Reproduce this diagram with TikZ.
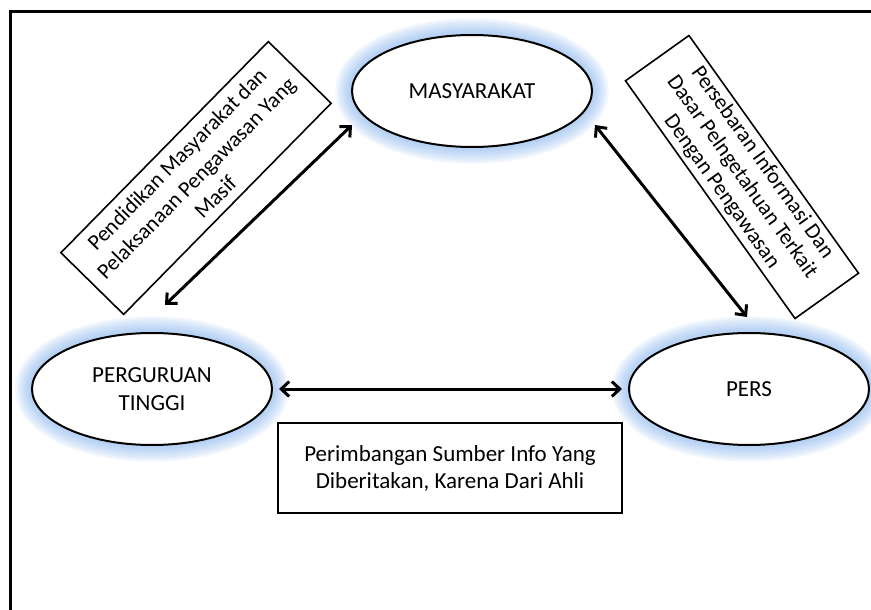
\documentclass[tikz,border=0pt]{standalone}
\usepackage{fontspec}
\setmainfont{Carlito}
\usetikzlibrary{shapes.geometric,arrows.meta}
\definecolor{glowc}{RGB}{120,170,235}
\begin{document}
\begin{tikzpicture}[x=1pt,y=-1pt,
  gl/.style={preaction={draw=glowc, line width=#1, opacity=0.07}},
  glowell/.style={ellipse, draw=black, line width=2pt, fill=white,
    minimum width=240pt, minimum height=112pt, inner sep=0pt, align=center,
    font=\fontsize{23}{28}\selectfont,
    gl=34pt, gl=31pt, gl=28pt, gl=25pt, gl=22pt, gl=19pt, gl=16pt, gl=13pt, gl=10pt, gl=7pt},
  txtbox/.style={draw=black, line width=1.6pt, fill=white, align=center,
    inner sep=0pt, font=\fontsize{23}{27}\selectfont},
  arr/.style={line width=3pt,
    {Straight Barb[length=8pt,width=15pt]}-{Straight Barb[length=8pt,width=15pt]}}]
\useasboundingbox (0,0) rectangle (871,610);
\draw[line width=3pt] (10,610) -- (10,12) -- (871,12);

\node[glowell] (m) at (472,91) {MASYARAKAT};
\node[glowell] (pt) at (152,389) {PERGURUAN\\TINGGI};
\node[glowell] (ps) at (749,389) {PERS};

\node[txtbox, minimum width=344pt, minimum height=90pt] (info) at (450,468)
  {Perimbangan Sumber Info Yang\\Diberitakan, Karena Dari Ahli};
\node[txtbox, rotate=45.5, minimum width=296pt, minimum height=88pt,
  font=\fontsize{22}{27}\selectfont] (lb) at (196,178)
  {Pendidikan Masyarakat dan\\Pelaksanaan Pengawasan Yang\\Masif};
\node[txtbox, rotate=-54.5, minimum width=292pt, minimum height=78pt,
  font=\fontsize{22}{25}\selectfont] (rb) at (742,177)
  {Persebaran Informasi Dan\\Dasar Pelngetahuan Terkait\\Dengan Pengawasan};

\coordinate (l1) at (165,305);
\coordinate (l2) at (352,125);
\coordinate (r1) at (595,125);
\coordinate (r2) at (747,317);
\draw[arr] (l1) -- (l2);
\draw[arr] (r1) -- (r2);
\draw[arr, shorten <=6pt, shorten >=6pt] (pt.east) -- (ps.west);
\end{tikzpicture}
\end{document}
